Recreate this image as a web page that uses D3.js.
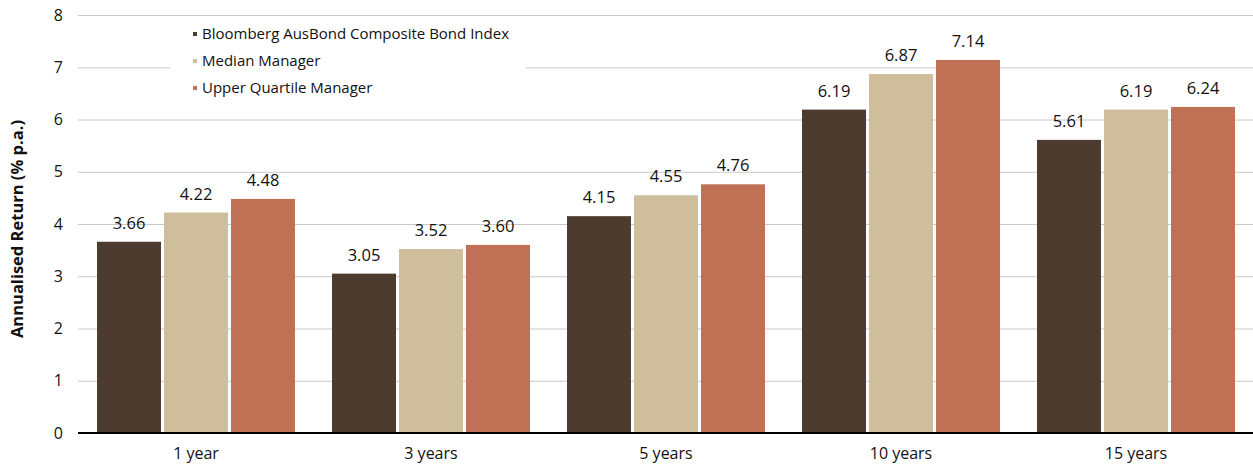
<!DOCTYPE html>
<html><head><meta charset="utf-8">
<script src="https://cdn.jsdelivr.net/npm/d3@7"></script>
<style>body{margin:0;background:#fff}svg{display:block;font-family:"Open Sans",sans-serif}</style>
</head><body>
<svg id="c" width="1253" height="465"></svg>
<script>
const categories = ["1 year","3 years","5 years","10 years","15 years"];
const seriesNames = ["Bloomberg AusBond Composite Bond Index","Median Manager","Upper Quartile Manager"];
const bondIndex = [3.66,3.05,4.15,6.19,5.61];
const median = [4.22,3.52,4.55,6.87,6.19];
const upperQuartile = [4.48,3.60,4.76,7.14,6.24];
const yTicks = [0,1,2,3,4,5,6,7,8];
const colors = ["#4d3b30","#cfbe9c","#c07155"];

const series = [bondIndex, median, upperQuartile];
const svg = d3.select("#c");
const x = d3.scaleBand().domain(categories).range([78.5,1253.5]).padding(0);
const x1 = d3.scaleBand().domain(d3.range(3)).range([18.5,216.5]).paddingInner(0.045).paddingOuter(0);
const y = d3.scaleLinear().domain([0,8]).range([433,15]);

// gridlines
svg.append("g").selectAll("line").data(yTicks.filter(d=>d>0)).join("line")
  .attr("x1",78).attr("x2",1253).attr("y1",d=>y(d)+0.5).attr("y2",d=>y(d)+0.5)
  .attr("stroke","#c8c8c8").attr("stroke-width",1);

// legend background
svg.append("rect").attr("x",170).attr("y",20).attr("width",356).attr("height",85).attr("fill","#fff");

// y tick labels
svg.append("g").selectAll("text").data(yTicks).join("text")
  .attr("x",63).attr("y",d=>y(d)).attr("dy","0.35em").attr("text-anchor","end")
  .attr("font-size",16).attr("fill","#111").text(d=>d);

// bars
const groups = svg.append("g").selectAll("g").data(categories).join("g")
  .attr("transform",d=>`translate(${x(d)},0)`);
groups.each(function(cat,ci){
  const g = d3.select(this);
  series.forEach((s,si)=>{
    g.append("rect").attr("x",x1(si)).attr("width",x1.bandwidth())
      .attr("y",y(s[ci])).attr("height",y(0)-y(s[ci])).attr("fill",colors[si]);
    g.append("text").attr("x",x1(si)+x1.bandwidth()/2).attr("y",y(s[ci])-13)
      .attr("text-anchor","middle").attr("font-size",16.5).attr("fill","#111")
      .text(s[ci].toFixed(2));
  });
});

// x axis baseline
svg.append("line").attr("x1",78).attr("x2",1253).attr("y1",433).attr("y2",433)
  .attr("stroke","#000").attr("stroke-width",2);

// x labels
svg.append("g").selectAll("text").data(categories).join("text")
  .attr("x",d=>x(d)+x.bandwidth()/2).attr("y",453).attr("dy","0.35em")
  .attr("text-anchor","middle").attr("font-size",16).attr("fill","#111").text(d=>d);

// y axis title
svg.append("text").attr("transform","translate(23,229) rotate(-90)")
  .attr("text-anchor","middle").attr("font-size",16.5).attr("font-weight","bold")
  .attr("fill","#111").text("Annualised Return (% p.a.)");

// legend
const lg = svg.append("g").selectAll("g").data(seriesNames).join("g")
  .attr("transform",(d,i)=>`translate(193,${34+i*27})`);
lg.append("rect").attr("x",0).attr("y",-2).attr("width",4).attr("height",4).attr("fill",(d,i)=>colors[i]);
lg.append("text").attr("x",9).attr("y",0).attr("dy","0.35em").attr("font-size",15)
  .attr("fill","#111").text(d=>d);
</script>
</body></html>
